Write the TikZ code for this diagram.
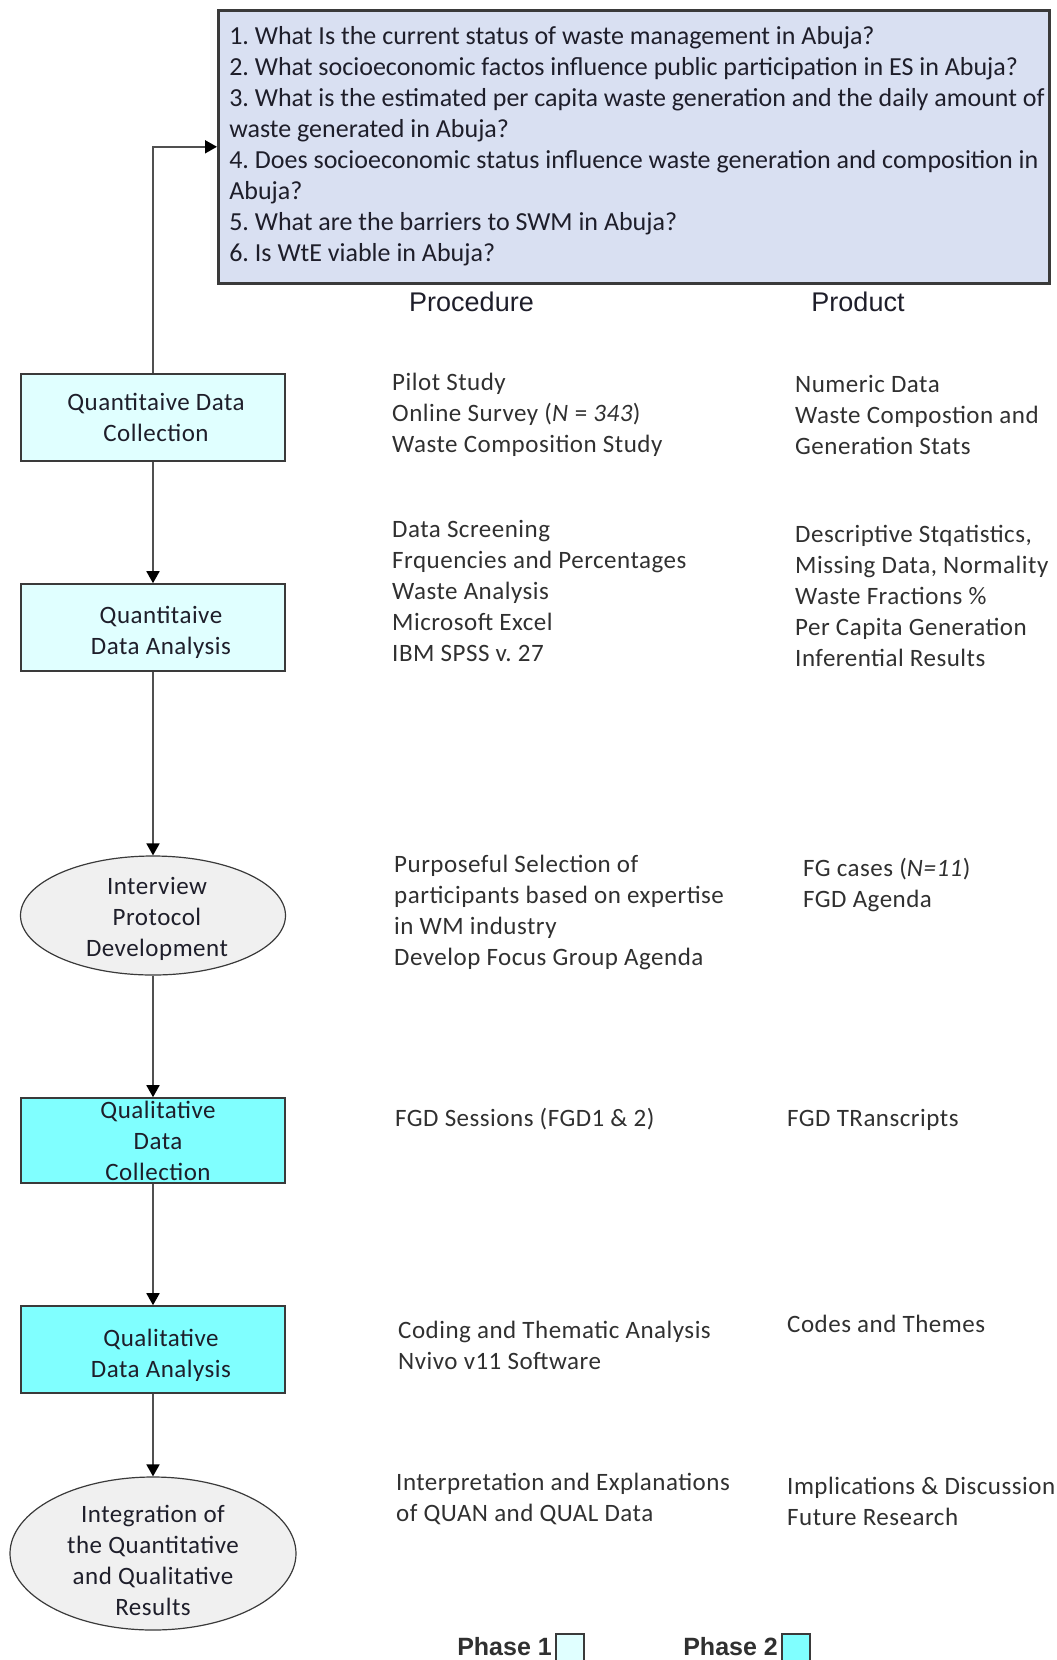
\documentclass[tikz,border=0pt]{standalone}
\usepackage{fontspec}
\setmainfont{Carlito}
\newfontfamily\colfont[LetterSpace=2]{Carlito}
\newfontfamily\headfont{Liberation Sans}
\usetikzlibrary{shapes.geometric,arrows.meta}
\frenchspacing

\definecolor{qfill}{HTML}{D9E0F2}
\definecolor{p1fill}{HTML}{E0FFFF}
\definecolor{p2fill}{HTML}{80FFFF}
\definecolor{ellfill}{HTML}{F0F0F0}
\definecolor{boxline}{HTML}{3A3A3A}
\definecolor{linegray}{HTML}{505050}
\definecolor{txtdark}{HTML}{1E1E2A}
\definecolor{coltext}{HTML}{303030}

\begin{document}
\begin{tikzpicture}[x=1pt,y=-1pt,
  qbox/.style={rectangle, draw=boxline, line width=2.6pt, fill=qfill,
    anchor=north west, minimum width=831pt, minimum height=273pt,
    inner xsep=0pt, inner ysep=0pt,
    font=\fontsize{26}{31}\selectfont, text=txtdark},
  flowbox/.style={rectangle, draw=boxline, line width=1.6pt,
    minimum width=264pt, minimum height=87pt, inner sep=0pt},
  p1box/.style={flowbox, fill=p1fill},
  p2box/.style={flowbox, fill=p2fill},
  stage/.style={ellipse, draw=boxline, line width=1.2pt, fill=ellfill, inner sep=0pt},
  boxtxt/.style={align=center, font=\colfont\fontsize{25}{31}\selectfont, text=txtdark, inner sep=0pt},
  flow/.style={draw=linegray, line width=1.8pt,
    -{Triangle[width=13pt,length=12pt,color=black]}},
  coltxt/.style={anchor=west, align=left, inner sep=0pt,
    font=\colfont\fontsize{25}{31}\selectfont, text=coltext},
  head/.style={font=\headfont\fontsize{27}{30}\selectfont, text=txtdark, inner sep=0pt},
  phase/.style={font=\headfont\bfseries\fontsize{25}{28}\selectfont, text=coltext, inner sep=0pt},
  legsq/.style={rectangle, draw=boxline, line width=2pt, minimum size=28pt, inner sep=0pt, anchor=north west}
]
\useasboundingbox (0,0) rectangle (1057,1660);

% research questions
\node[qbox] (q) at (217,9) {\makebox[831pt][l]{%
\begin{tabular}{@{\hspace{11pt}}l@{}}
1. What Is the current status of waste management in Abuja?\\
2. What socioeconomic factos influence public participation in ES in Abuja?\\
3. What is the estimated per capita waste generation and the daily amount of\\
waste generated in Abuja?\\
4. Does socioeconomic status influence waste generation and composition in\\
Abuja?\\
5. What are the barriers to SWM in Abuja?\\
6. Is WtE viable in Abuja?
\end{tabular}}};

% column headings
\node[head] (hproc) at (471.5,302) {Procedure};
\node[head] (hprod) at (858,302) {Product};

% flow of stages
\node[p1box, label={[boxtxt, xshift=3pt]center:{Quantitaive Data\\Collection}}] (qnc) at (153,417.5) {};
\node[p1box, label={[boxtxt, xshift=8pt, yshift=-5pt]center:{Quantitaive\\Data Analysis}}] (qna) at (153,627.5) {};
\node[stage, minimum width=265pt, minimum height=119pt,
      label={[boxtxt, xshift=4pt, yshift=-3pt]center:{Interview\\Protocol\\Development}}] (ipd) at (153,915.5) {};
\node[p2box, minimum height=85pt,
      label={[boxtxt, xshift=5pt]center:{Qualitative\\Data\\Collection}}] (qlc) at (153,1140.5) {};
\node[p2box, label={[boxtxt, xshift=8pt, yshift=-6pt]center:{Qualitative\\Data Analysis}}] (qla) at (153,1349.5) {};
\node[stage, minimum width=286pt, minimum height=153pt,
      label={[boxtxt, yshift=-7pt]center:{Integration of\\the Quantitative\\and Qualitative\\Results}}] (integ) at (153,1553.5) {};

% connectors
\draw[flow] (qnc.north) |- (q.west);
\draw[flow] (qnc.south) -- (qna.north);
\draw[flow] (qna.south) -- (ipd.north);
\draw[flow] (ipd.south) -- (qlc.north);
\draw[flow] (qlc.south) -- (qla.north);
\draw[flow] (qla.south) -- (integ.north);

% procedures
\node[coltxt] (pr1) at (392,414.5) {Pilot Study\\Online Survey (\textit{N} = \textit{343})\\Waste Composition Study};
\node[coltxt] (pr2) at (392,591) {Data Screening\\Frquencies and Percentages\\Waste Analysis\\Microsoft Excel\\IBM SPSS v. 27};
\node[coltxt] (pr3) at (394,912) {Purposeful Selection of\\participants based on expertise\\in WM industry\\Develop Focus Group Agenda};
\node[coltxt] (pr4) at (395,1119.5) {FGD Sessions (FGD1 \& 2)};
\node[coltxt] (pr5) at (398,1345.5) {Coding and Thematic Analysis\\Nvivo v11 Software};
\node[coltxt] (pr6) at (396,1499) {Interpretation and Explanations\\of QUAN and QUAL Data};

% products
\node[coltxt] (pd1) at (795,414.5) {Numeric Data\\Waste Compostion and\\Generation Stats};
\node[coltxt] (pd2) at (795,595.5) {Descriptive Stqatistics,\\Missing Data, Normality\\Waste Fractions \%\\Per Capita Generation\\Inferential Results};
\node[coltxt] (pd3) at (803,885) {FG cases (\textit{N=11})\\FGD Agenda};
\node[coltxt] (pd4) at (787,1119.5) {FGD TRanscripts};
\node[coltxt] (pd5) at (787,1324) {Codes and Themes};
\node[coltxt] (pd6) at (787,1501.5) {Implications \& Discussion\\Future Research};

% legend
\node[phase, anchor=base east] (ph1) at (552,1655) {Phase 1};
\node[legsq, fill=p1fill] (sq1) at (555,1633) {};
\node[phase, anchor=base east] (ph2) at (778,1655) {Phase 2};
\node[legsq, fill=p2fill] (sq2) at (781,1633) {};
\end{tikzpicture}
\end{document}
